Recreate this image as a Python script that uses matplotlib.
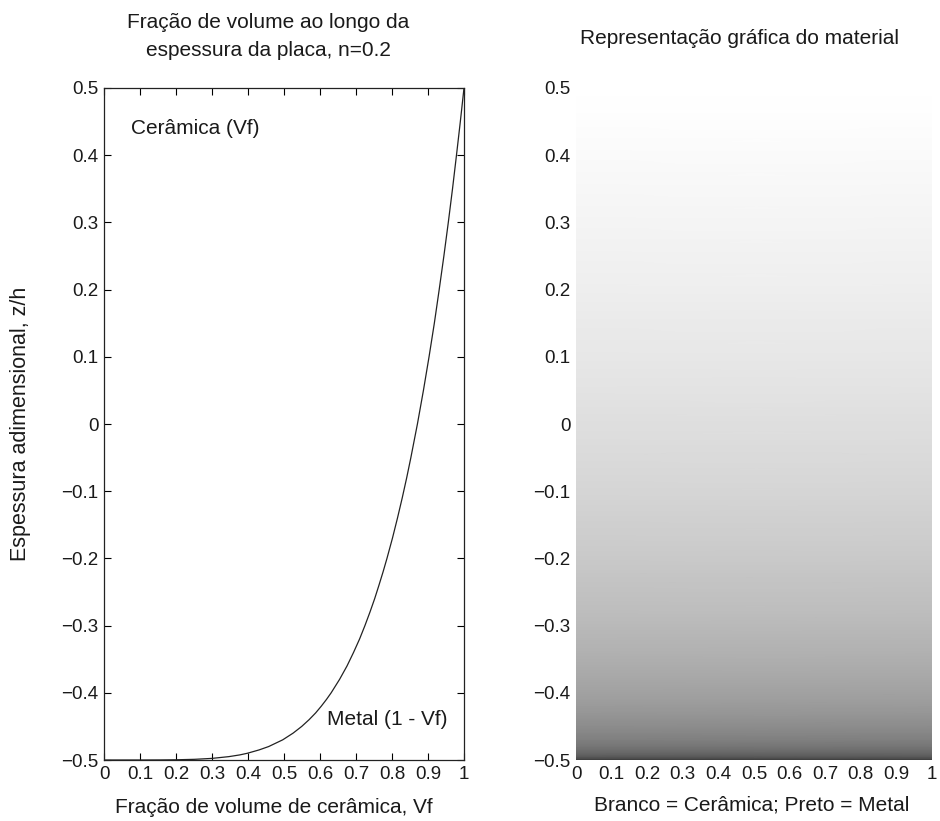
import matplotlib.pyplot as plt
import numpy as np

plt.rcParams['font.family'] = ['Liberation Sans', 'DejaVu Sans']

# espessura adimensional z/h e fração de volume de cerâmica (n=0.2)
z_h = [-0.5, -0.49999, -0.4999, -0.49968, -0.499, -0.4976, -0.495, -0.4925, -0.49,
       -0.485, -0.48, -0.47, -0.46, -0.45, -0.44, -0.43, -0.42, -0.41, -0.4,
       -0.38, -0.36, -0.34, -0.32, -0.3, -0.28, -0.26, -0.24, -0.22, -0.2,
       -0.17, -0.14, -0.11, -0.08, -0.05, -0.02, 0.0, 0.05, 0.1, 0.15, 0.2,
       0.25, 0.3, 0.35, 0.4, 0.45, 0.5]
vf = [0.0, 0.1000, 0.1585, 0.2000, 0.2512, 0.3000, 0.3466, 0.3764, 0.3981,
      0.4308, 0.4573, 0.4964, 0.5253, 0.5493, 0.5697, 0.5878, 0.6034, 0.6178, 0.6310,
      0.6544, 0.6751, 0.6931, 0.7099, 0.7248, 0.7387, 0.7518, 0.7637, 0.7752, 0.7860,
      0.8012, 0.8152, 0.8284, 0.8408, 0.8524, 0.8633, 0.8706, 0.8873, 0.9029, 0.9176,
      0.9311, 0.9441, 0.9564, 0.9681, 0.9791, 0.9898, 1.0]

xticks = [0, 0.1, 0.2, 0.3, 0.4, 0.5, 0.6, 0.7, 0.8, 0.9, 1]
xticklabels = ['0', '0.1', '0.2', '0.3', '0.4', '0.5', '0.6', '0.7', '0.8', '0.9', '1']
yticks = [-0.5, -0.4, -0.3, -0.2, -0.1, 0, 0.1, 0.2, 0.3, 0.4, 0.5]
yticklabels = ['\u22120.5', '\u22120.4', '\u22120.3', '\u22120.2', '\u22120.1', '0',
               '0.1', '0.2', '0.3', '0.4', '0.5']

txt = '#1a1a1a'
fs_tick = 13.5
fs = 15

fig = plt.figure(figsize=(9.4, 8.21), dpi=100)

# painel esquerdo
ax1 = fig.add_axes([104 / 940, 1 - 760 / 821, 360 / 940, 672 / 821])
ax1.plot(vf, z_h, color='#222222', lw=0.9)
ax1.set_xlim(0, 1)
ax1.set_ylim(-0.5, 0.5)
ax1.set_xticks(xticks)
ax1.set_xticklabels(xticklabels)
ax1.set_yticks(yticks)
ax1.set_yticklabels(yticklabels)
ax1.tick_params(direction='in', top=True, right=True, length=5, width=0.8,
                labelsize=fs_tick, labelcolor=txt, pad=4)
for s in ax1.spines.values():
    s.set_linewidth(0.9)
    s.set_color('#222222')
ax1.text(0.075, 0.44, 'Cerâmica (Vf)', fontsize=fs, color=txt, va='center')
ax1.text(0.955, -0.44, 'Metal (1 - Vf)', fontsize=fs, color=txt,
         va='center', ha='right')

# painel direito: representação do material
ax2 = fig.add_axes([576 / 940, 1 - 760 / 821, 356 / 940, 672 / 821])
X, Y = np.meshgrid([0, 1], z_h)
C = np.column_stack([vf, vf])
ax2.pcolormesh(X, Y, C, cmap='gray', vmin=0, vmax=1, shading='gouraud')
ax2.set_xlim(0, 1)
ax2.set_ylim(-0.5, 0.5)
ax2.set_xticks(xticks)
ax2.set_xticklabels(xticklabels)
ax2.set_yticks(yticks)
ax2.set_yticklabels(yticklabels)
ax2.tick_params(length=0, labelsize=fs_tick, labelcolor=txt, pad=4)
for s in ax2.spines.values():
    s.set_visible(False)

# títulos e rótulos
fig.text(268 / 940, 1 - 23 / 821, 'Fração de volume ao longo da', ha='center',
         va='center', fontsize=fs, color=txt)
fig.text(268 / 940, 1 - 50 / 821, 'espessura da placa, n=0.2', ha='center',
         va='center', fontsize=fs, color=txt)
fig.text(739 / 940, 1 - 39 / 821, 'Representação gráfica do material', ha='center',
         va='center', fontsize=fs, color=txt)
fig.text(274 / 940, 1 - 807 / 821, 'Fração de volume de cerâmica, Vf', ha='center',
         va='center', fontsize=fs, color=txt)
fig.text(752 / 940, 1 - 805 / 821, 'Branco = Cerâmica; Preto = Metal', ha='center',
         va='center', fontsize=fs, color=txt)
fig.text(21 / 940, 1 - 424 / 821, 'Espessura adimensional, z/h', ha='center',
         va='center', rotation=90, fontsize=15.5, color=txt)

fig.savefig('out.png', dpi=100)
